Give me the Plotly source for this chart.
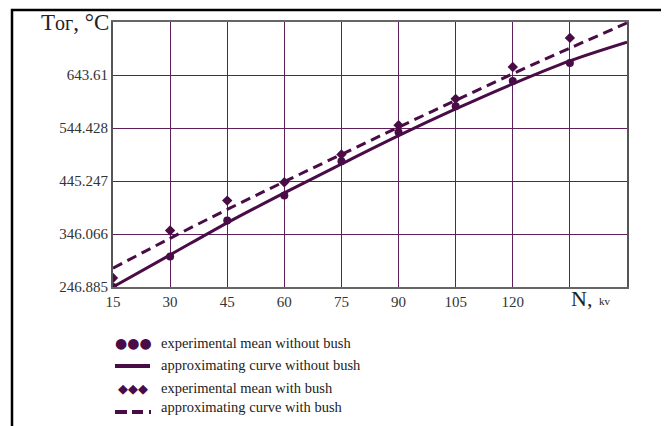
import plotly.graph_objects as go

# N, kv  (grid positions)
n_kv = [15, 30, 45, 60, 75, 90, 105, 120, 135, 150]

# approximating curves at each grid line
curve_without_bush = [247, 307, 367, 423, 477, 530, 580, 627, 670, 705]
curve_with_bush = [282, 338, 392, 444, 495, 546, 596, 646, 694, 741]

# experimental means
exp_n = [15, 30, 45, 60, 75, 90, 105, 120, 135]
exp_without_bush = [246.9, 304, 371.5, 418, 482.4, 536.4, 585.3, 632.4, 666]
exp_with_bush = [263.8, 352.7, 408.6, 443, 495, 549.6, 599, 658.7, 713]

y_ticks = [246.885, 346.066, 445.247, 544.428, 643.61, 742.791]
y_labels = ["246.885", "346.066", "445.247", "544.428", "643.61", ""]
x_ticks = [15, 30, 45, 60, 75, 90, 105, 120, 135, 150]
x_labels = ["15", "30", "45", "60", "75", "90", "105", "120", "", ""]

legend_texts = [
    "experimental mean without bush",
    "approximating curve without bush",
    "experimental mean with bush",
    "approximating curve with bush",
]

PURPLE = "#4a0c46"
GRID = "#5e1f5c"
SERIF = "Liberation Serif, Times New Roman, serif"

# the page body adds an 8px margin, so the figure is drawn 8px smaller
OFF = 8
W, H = 669 - OFF, 426 - OFF
# plot area in reference pixels
L, R, T, B = 113, 627, 22, 287


def px(x):
    return (x - L) / (R - L)


def py(y):
    return (B - y) / (B - T)


fig = go.Figure()
fig.add_trace(go.Scatter(x=n_kv, y=curve_without_bush, mode="lines", line_shape="spline",
                         line=dict(color=PURPLE, width=3)))
fig.add_trace(go.Scatter(x=n_kv, y=curve_with_bush, mode="lines", line_shape="spline",
                         line=dict(color=PURPLE, width=3, dash="10px,6px")))
fig.add_trace(go.Scatter(x=exp_n, y=exp_without_bush, mode="markers",
                         marker=dict(symbol="circle", size=8, color=PURPLE)))
fig.add_trace(go.Scatter(x=exp_n, y=exp_with_bush, mode="markers",
                         marker=dict(symbol="diamond", size=8, color=PURPLE)))

fig.update_xaxes(range=[15, 150], tickvals=x_ticks, ticktext=x_labels,
                 showgrid=True, gridcolor=GRID, gridwidth=1.3,
                 showline=True, linecolor="#666", linewidth=2, mirror=True,
                 ticks="", tickfont=dict(family=SERIF, size=15, color="#333"),
                 zeroline=False)
fig.update_yaxes(range=[246.885, 742.791], tickvals=y_ticks, ticktext=y_labels,
                 showgrid=True, gridcolor=GRID, gridwidth=1.3,
                 showline=True, linecolor="#555", linewidth=2, mirror=True,
                 ticks="", ticklabelstandoff=0,
                 tickfont=dict(family=SERIF, size=15, color="#333"),
                 zeroline=False)

annotations = [
    dict(x=px(111), y=py(22), xref="paper", yref="paper", xanchor="right", yanchor="middle",
         text="T<span style='font-size:20px'>ог</span>, °C", showarrow=False,
         font=dict(family=SERIF, size=23, color="#222")),
    dict(x=px(569), y=py(298), xref="paper", yref="paper", xanchor="left", yanchor="middle",
         text="N,", showarrow=False, font=dict(family=SERIF, size=22, color="#222")),
    dict(x=px(597), y=py(301), xref="paper", yref="paper", xanchor="left", yanchor="middle",
         text="kv", showarrow=False, font=dict(family=SERIF, size=11, color="#222")),
]

shapes = [
    # outer frame
    dict(type="rect", xref="paper", yref="paper", x0=px(12), x1=px(663), y0=py(440), y1=py(10),
         line=dict(color="black", width=2.5), layer="below"),
]

leg_y = [343, 365, 388, 407]
for t, ly in zip(legend_texts, leg_y):
    annotations.append(dict(x=px(159), y=py(ly), xref="paper", yref="paper",
                            xanchor="left", yanchor="middle", text=t, showarrow=False,
                            font=dict(family=SERIF, size=14.5, color="#222")))

annotations.append(dict(x=px(133), y=py(343), xref="paper", yref="paper",
                        xanchor="center", yanchor="middle", text="●●●", showarrow=False,
                        font=dict(family="DejaVu Sans", size=14, color=PURPLE)))
annotations.append(dict(x=px(133), y=py(388), xref="paper", yref="paper",
                        xanchor="center", yanchor="middle", text="◆◆◆", showarrow=False,
                        font=dict(family="DejaVu Sans", size=13, color=PURPLE)))
shapes.append(dict(type="line", xref="paper", yref="paper", x0=px(115), x1=px(150),
                   y0=py(366), y1=py(366), line=dict(color=PURPLE, width=4)))
shapes.append(dict(type="line", xref="paper", yref="paper", x0=px(115), x1=px(127),
                   y0=py(412), y1=py(412), line=dict(color=PURPLE, width=4)))
shapes.append(dict(type="line", xref="paper", yref="paper", x0=px(132), x1=px(143),
                   y0=py(412), y1=py(412), line=dict(color=PURPLE, width=4)))
shapes.append(dict(type="line", xref="paper", yref="paper", x0=px(149), x1=px(151),
                   y0=py(412), y1=py(412), line=dict(color=PURPLE, width=4)))

fig.update_layout(
    width=W, height=H,
    margin=dict(l=L - OFF, r=W - (R - OFF), t=T - OFF, b=H - (B - OFF)),
    paper_bgcolor="white", plot_bgcolor="white",
    showlegend=False,
    annotations=annotations,
    shapes=shapes,
)

fig.write_html("out.html")
